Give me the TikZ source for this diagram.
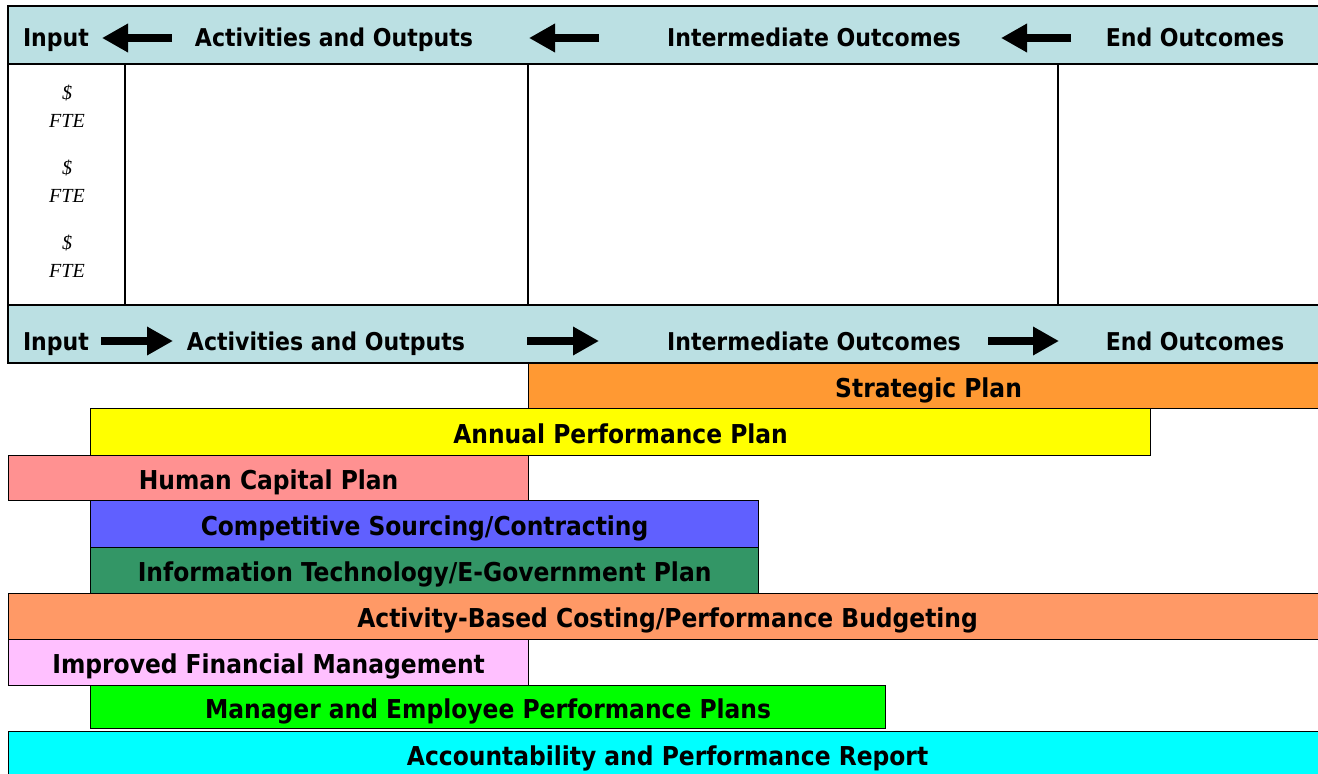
\documentclass[tikz,border=0pt]{standalone}
\usepackage{fontspec}
\setmainfont{DejaVu Sans Condensed}
\newfontfamily\serifit{Liberation Serif}
\usetikzlibrary{arrows.meta}
\definecolor{hdr}{RGB}{187,224,227}
\definecolor{cstrat}{RGB}{255,153,51}
\definecolor{cannual}{RGB}{255,255,0}
\definecolor{chuman}{RGB}{255,145,145}
\definecolor{ccomp}{RGB}{96,96,255}
\definecolor{cit}{RGB}{51,150,102}
\definecolor{cabc}{RGB}{255,153,102}
\definecolor{cifm}{RGB}{255,192,255}
\definecolor{cmep}{RGB}{0,255,0}
\definecolor{capr}{RGB}{0,255,255}
\begin{document}
\begin{tikzpicture}[x=1pt,y=-1pt,
  bar/.style={draw=black, line width=1.2pt, anchor=north west, inner sep=0pt,
    font=\bfseries\fontsize{26}{30}\selectfont, text height=22pt, text depth=0pt},
  hlabel/.style={font=\bfseries\fontsize{24.5}{28}\selectfont, inner sep=0pt, anchor=base},
  blockarrow/.style={line width=8.5pt, -{Triangle[length=26pt,width=27pt]}},
  ft/.style={font=\serifit\itshape\fontsize{20}{28}\selectfont, align=center, inner sep=0pt},
  grid/.style={line width=1.2pt}]
\useasboundingbox (0,0) rectangle (1318,774);
\clip (0,0) rectangle (1318,774);
\fill[white] (0,0) rectangle (1318,774);

% top header (reversed)
\draw[grid, fill=hdr] (8,6) rectangle (1340,64);
\node[hlabel] (ti) at (56,46) {Input};
\node[hlabel] (ta) at (334,46) {Activities and Outputs};
\node[hlabel] (tm) at (814,46) {Intermediate Outcomes};
\node[hlabel] (te) at (1195,46) {End Outcomes};
\coordinate (ta1) at (172,38); \coordinate (ta2) at (102,38);
\coordinate (tb1) at (599,38); \coordinate (tb2) at (529,38);
\coordinate (tc1) at (1071,38); \coordinate (tc2) at (1001,38);
\draw[blockarrow] (ta1) -- (ta2);
\draw[blockarrow] (tb1) -- (tb2);
\draw[blockarrow] (tc1) -- (tc2);

% table body
\draw[grid] (8,64) -- (8,305);
\draw[grid] (125,64) -- (125,305);
\draw[grid] (528,64) -- (528,305);
\draw[grid] (1058,64) -- (1058,305);
\node[ft] (f1) at (67,106) {\$\\FTE};
\node[ft] (f2) at (67,181) {\$\\FTE};
\node[ft] (f3) at (67,256) {\$\\FTE};

% second header
\draw[grid, fill=hdr] (8,305) rectangle (1340,363);
\node[hlabel] (bi) at (56,350) {Input};
\node[hlabel] (ba) at (326,350) {Activities and Outputs};
\node[hlabel] (bm) at (814,350) {Intermediate Outcomes};
\node[hlabel] (be) at (1195,350) {End Outcomes};
\coordinate (ba1) at (101,341); \coordinate (ba2) at (173,341);
\coordinate (bb1) at (527,341); \coordinate (bb2) at (599,341);
\coordinate (bc1) at (988,341); \coordinate (bc2) at (1059,341);
\draw[blockarrow] (ba1) -- (ba2);
\draw[blockarrow] (bb1) -- (bb2);
\draw[blockarrow] (bc1) -- (bc2);

% bars
\node[bar, fill=cstrat, minimum width=800pt, minimum height=45pt] (sp) at (528,363) {Strategic Plan};
\node[bar, fill=cannual, minimum width=1060pt, minimum height=47pt] (app) at (90,408) {Annual Performance Plan};
\node[bar, fill=chuman, minimum width=520pt, minimum height=45pt] (hcp) at (8,455) {Human Capital Plan};
\node[bar, fill=ccomp, minimum width=668pt, minimum height=47pt] (cs) at (90,500) {Competitive Sourcing/Contracting};
\node[bar, fill=cit, minimum width=668pt, minimum height=46pt] (it) at (90,547) {Information Technology/E-Government Plan};
\node[bar, fill=cabc, minimum width=1318pt, minimum height=46pt] (abc) at (8,593) {Activity-Based Costing/Performance Budgeting};
\node[bar, fill=cifm, minimum width=520pt, minimum height=46pt] (ifm) at (8,639) {Improved Financial Management};
\node[bar, fill=cmep, minimum width=795pt, minimum height=43pt] (mep) at (90,685) {Manager and Employee Performance Plans};
\node[bar, fill=capr, minimum width=1318pt, minimum height=46pt] (apr) at (8,731) {Accountability and Performance Report};
\end{tikzpicture}
\end{document}
